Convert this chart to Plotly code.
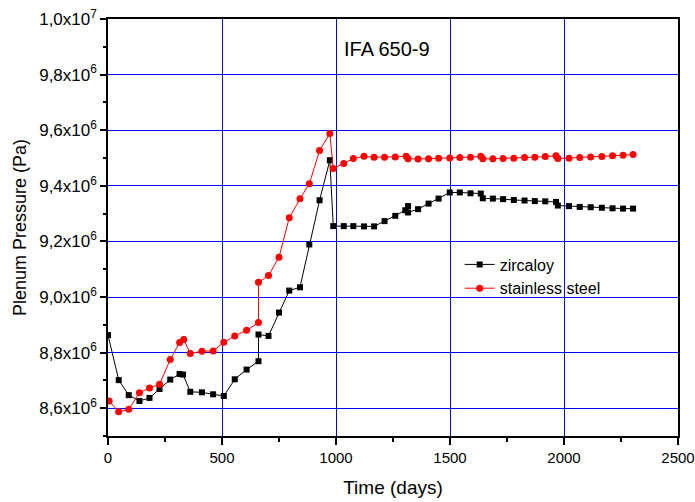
import plotly.graph_objects as go

# Zircaloy data (days, Pa)
zirc_days = [0, 47, 91, 138, 182, 226, 273, 314, 329, 361, 412, 461, 508, 556, 608,
             660, 660, 704, 750, 795, 842, 883, 928, 973, 988, 1034, 1076, 1123, 1167,
             1213, 1260, 1304, 1316, 1316, 1360, 1406, 1450, 1499, 1543, 1590, 1635,
             1644, 1688, 1733, 1780, 1827, 1872, 1918, 1965, 1973, 2022, 2069, 2117,
             2166, 2213, 2259, 2303]
zirc_pa = [8.863e6, 8.701e6, 8.647e6, 8.626e6, 8.637e6, 8.669e6, 8.703e6, 8.723e6, 8.721e6,
           8.659e6, 8.657e6, 8.650e6, 8.644e6, 8.704e6, 8.739e6, 8.769e6, 8.865e6, 8.860e6,
           8.944e6, 9.023e6, 9.035e6, 9.189e6, 9.348e6, 9.492e6, 9.255e6, 9.255e6, 9.255e6,
           9.254e6, 9.254e6, 9.273e6, 9.292e6, 9.312e6, 9.327e6, 9.304e6, 9.316e6, 9.336e6,
           9.354e6, 9.376e6, 9.376e6, 9.373e6, 9.372e6, 9.355e6, 9.354e6, 9.352e6, 9.349e6,
           9.347e6, 9.345e6, 9.344e6, 9.342e6, 9.329e6, 9.327e6, 9.324e6, 9.323e6, 9.321e6,
           9.319e6, 9.318e6, 9.318e6]

# Stainless steel data (days, Pa)
ss_days = [5, 47, 91, 138, 182, 226, 273, 314, 332, 361, 412, 461, 508, 556, 608,
           660, 660, 704, 750, 795, 842, 883, 928, 973, 988, 1034, 1076, 1123, 1167,
           1213, 1260, 1308, 1316, 1360, 1406, 1450, 1499, 1543, 1590, 1635,
           1644, 1688, 1733, 1780, 1827, 1872, 1918, 1965, 1973, 2022, 2069, 2117,
           2166, 2213, 2259, 2303]
ss_pa = [8.626e6, 8.587e6, 8.596e6, 8.656e6, 8.673e6, 8.686e6, 8.775e6, 8.836e6, 8.847e6,
         8.797e6, 8.805e6, 8.806e6, 8.837e6, 8.860e6, 8.880e6, 8.908e6, 9.053e6, 9.077e6,
         9.143e6, 9.285e6, 9.353e6, 9.407e6, 9.527e6, 9.588e6, 9.462e6, 9.480e6, 9.498e6,
         9.506e6, 9.503e6, 9.503e6, 9.504e6, 9.506e6, 9.497e6, 9.496e6, 9.497e6, 9.499e6,
         9.500e6, 9.502e6, 9.503e6, 9.506e6, 9.497e6, 9.497e6, 9.498e6, 9.499e6, 9.502e6,
         9.503e6, 9.505e6, 9.508e6, 9.498e6, 9.499e6, 9.502e6, 9.504e6, 9.505e6, 9.508e6,
         9.510e6, 9.513e6]

y_tick_vals = [8.6e6, 8.8e6, 9.0e6, 9.2e6, 9.4e6, 9.6e6, 9.8e6, 1.0e7]
y_tick_text = ["8,6x10<sup>6</sup>", "8,8x10<sup>6</sup>", "9,0x10<sup>6</sup>",
               "9,2x10<sup>6</sup>", "9,4x10<sup>6</sup>", "9,6x10<sup>6</sup>",
               "9,8x10<sup>6</sup>", "1,0x10<sup>7</sup>"]

FONT = "Liberation Sans, Arial, sans-serif"
GRID = "#0000FF"

fig = go.Figure()
fig.add_trace(go.Scatter(x=zirc_days, y=zirc_pa, mode="lines+markers", name="zircaloy",
                         line=dict(color="black", width=1),
                         marker=dict(symbol="square", size=6, color="black")))
fig.add_trace(go.Scatter(x=ss_days, y=ss_pa, mode="lines+markers", name="stainless steel",
                         line=dict(color="#FF0000", width=1),
                         marker=dict(symbol="circle", size=7, color="#FF0000")))

fig.update_layout(
    width=695, height=502,
    margin=dict(l=108, r=17, t=19, b=66, autoexpand=False),
    plot_bgcolor="white", paper_bgcolor="white",
    font=dict(family=FONT, color="black", size=16),
    showlegend=True,
    legend=dict(x=0.617, y=0.452, xanchor="left", yanchor="top",
                bgcolor="rgba(0,0,0,0)", font=dict(size=16), tracegroupgap=0),
    annotations=[dict(text="IFA 650-9", x=0.49, y=0.927, xref="paper", yref="paper",
                      xanchor="center", yanchor="middle", showarrow=False,
                      font=dict(size=20))],
)
fig.update_xaxes(range=[0, 2500], tickmode="linear", tick0=0, dtick=500,
                 automargin=False, ticklabeloverflow="allow",
                 showgrid=True, gridcolor=GRID, gridwidth=1, zeroline=False,
                 showline=True, linecolor="black", linewidth=1.5, mirror=True,
                 ticks="outside", ticklen=7, tickwidth=1.5, tickcolor="black",
                 minor=dict(tickmode="linear", tick0=0, dtick=250, ticks="outside",
                            ticklen=4, tickwidth=1.5, tickcolor="black", showgrid=False),
                 title=dict(text="Time (days)", font=dict(size=19), standoff=16),
                 tickfont=dict(size=15))
fig.update_yaxes(range=[8.5e6, 1.0e7], tickmode="array", tickvals=y_tick_vals,
                 ticktext=y_tick_text, automargin=False, ticklabeloverflow="allow",
                 showgrid=True, gridcolor=GRID, gridwidth=1, zeroline=False,
                 showline=True, linecolor="black", linewidth=1.5, mirror=True,
                 ticks="outside", ticklen=6, tickwidth=1.5, tickcolor="black",
                 minor=dict(tickmode="linear", tick0=8.5e6, dtick=1e5, ticks="outside",
                            ticklen=3, tickwidth=1.5, tickcolor="black", showgrid=False),
                 title=dict(text="Plenum Pressure (Pa)", font=dict(size=18), standoff=8),
                 tickfont=dict(size=17))

fig.write_html("out.html", config={"displayModeBar": False},
               post_script="document.body.style.margin='0';document.body.style.overflow='hidden';")
